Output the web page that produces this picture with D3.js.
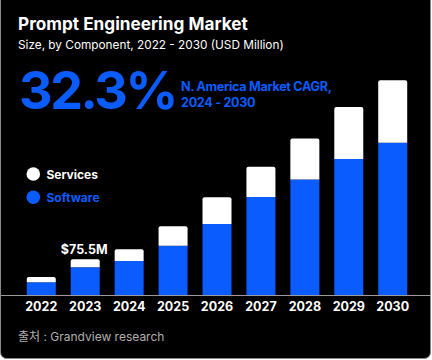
<!DOCTYPE html>
<html><head><meta charset="utf-8">
<script src="https://cdn.jsdelivr.net/npm/d3@7"></script>
<style>
html,body{margin:0;padding:0;background:#fff;}
svg{display:block;font-family:Inter,"Noto Sans CJK KR",sans-serif;}
</style></head>
<body><svg id="c" width="432" height="360"></svg>
<script>
const years = ["2022","2023","2024","2025","2026","2027","2028","2029","2030"];
const software = [27.3, 58.7, 72, 104, 149.5, 206, 243, 286, 320];
const services = [11.1, 16.8, 24.5, 40.7, 56, 63.5, 86, 109, 131];
const seriesNames = ["Services","Software"];
const highlightLabel = {year:"2023", text:"$75.5M"};

const BLUE = "#0b5cff";
const svg = d3.select("#c");

svg.append("rect").attr("x",0.5).attr("y",-8).attr("width",430).attr("height",366.5)
  .attr("rx",6).attr("fill","#000").attr("stroke","#8a8a8a").attr("stroke-width",1);

const x = d3.scaleBand().domain(years).range([18,416]).paddingInner(0.34).paddingOuter(0.2);
const y = d3.scaleLinear().domain([0,451]).range([295.3,80.3]);

const data = years.map((yr,i)=>({year:yr, software:software[i], services:services[i]}));
const stack = d3.stack().keys(["software","services"])(data);

const colors = {software:BLUE, services:"#fff"};
function topRounded(x0,y0,w,h,r){
  r = Math.min(r,h);
  return `M${x0},${y0+h}V${y0+r}Q${x0},${y0} ${x0+r},${y0}H${x0+w-r}Q${x0+w},${y0} ${x0+w},${y0+r}V${y0+h}Z`;
}
stack.forEach(layer=>{
  svg.append("g").selectAll("path").data(layer).join("path")
    .attr("fill",colors[layer.key])
    .attr("d",d=>{
      const x0=x(d.data.year), w=x.bandwidth();
      const y0=y(d[1]), h=y(d[0])-y(d[1]);
      return layer.key==="services" ? topRounded(x0,y0,w,h,2) : `M${x0},${y0}h${w}v${h}h${-w}Z`;
    });
});

// baseline axis
const axis = d3.axisBottom(x).tickSize(0).tickPadding(7);
const ag = svg.append("g").attr("transform","translate(0,295.3)").call(axis);
ag.select(".domain").remove();
svg.append("line").attr("x1",1).attr("x2",431).attr("y1",295.5).attr("y2",295.5)
  .attr("stroke","#9a9a9a").attr("stroke-width",1.2);
ag.selectAll("text").attr("fill","#fff").attr("font-size",12.5).attr("font-weight",700)
  .attr("font-family","Inter,sans-serif").attr("dy","0.71em");

// value label
const hi = data.find(d=>d.year===highlightLabel.year);
svg.append("text").attr("x",x(hi.year)+x.bandwidth()/2-1).attr("y",y(hi.software+hi.services)-5)
  .attr("text-anchor","middle").attr("fill","#fff").attr("font-size",12.5).attr("font-weight",700)
  .text(highlightLabel.text);

// titles
svg.append("text").attr("x",18).attr("y",30).attr("fill","#fff").attr("font-size",17.2).attr("font-weight",700)
  .text("Prompt Engineering Market");
svg.append("text").attr("x",18).attr("y",49).attr("fill","#fff").attr("font-size",11.8).attr("font-weight",400)
  .text("Size, by Component, 2022 - 2030 (USD Million)");
svg.append("text").attr("x",19).attr("y",109.3).attr("fill",BLUE).attr("font-size",52).attr("font-weight",700)
  .attr("letter-spacing",-2.4).text("32.3%");
svg.append("text").attr("x",181).attr("y",90.7).attr("fill",BLUE).attr("font-size",12.6).attr("font-weight",700)
  .attr("letter-spacing",-0.3).text("N. America Market CAGR,");
svg.append("text").attr("x",181).attr("y",107.3).attr("fill",BLUE).attr("font-size",12.6).attr("font-weight",700)
  .attr("letter-spacing",-0.3).text("2024 - 2030");

// legend
const legColors = [ "#fff", BLUE ];
seriesNames.forEach((n,i)=>{
  const cy = 174 + i*23.3;
  svg.append("circle").attr("cx",33.3).attr("cy",cy).attr("r",6.8).attr("fill",legColors[i]);
  svg.append("text").attr("x",46.5).attr("y",cy+4.5).attr("fill",legColors[i]).attr("font-size",12)
    .attr("font-weight",700).text(n);
});

// source
svg.append("text").attr("x",18).attr("y",341).attr("fill","#b0b0b0").attr("font-size",12)
  .attr("font-family","Inter,'Noto Sans CJK KR',sans-serif").text("출처 : Grandview research");
</script></body></html>
